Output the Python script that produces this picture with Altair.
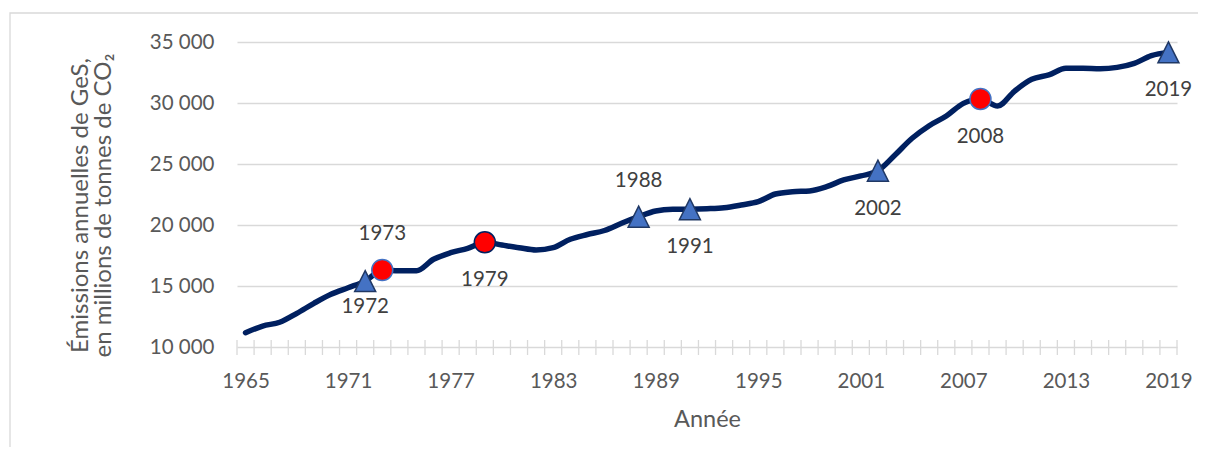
import altair as alt
import pandas as pd

# ---------------- data ----------------
years = list(range(1965, 2020))
emissions = [11170, 11720, 12030, 12760, 13580, 14320, 14860, 15400, 16310, 16250,
             16250, 17190, 17730, 18090, 18580, 18360, 18140, 17950, 18140, 18830,
             19220, 19550, 20140, 20680, 21150, 21290, 21300, 21340, 21420, 21640,
             21910, 22540, 22730, 22790, 23140, 23690, 24020, 24450, 25740, 27110,
             28140, 28930, 29970, 30330, 29750, 30980, 31940, 32300, 32840, 32840,
             32810, 32920, 33250, 33880, 34150]

event_years = [1972, 1973, 1979, 1988, 1991, 2002, 2008, 2019]
event_kind = ["triangle", "circle", "circle", "triangle", "triangle", "triangle", "circle", "triangle"]
event_label_pos = ["near", "above", "below", "above", "below", "below", "below", "below"]

x_label_years = [1965, 1971, 1977, 1983, 1989, 1995, 2001, 2007, 2013, 2019]
y_tick_values = [10000, 15000, 20000, 25000, 30000, 35000]

y_title = ["Émissions annuelles de GeS,", "en millions de tonnes de CO₂"]
x_title = "Année"

# ---------------- tables ----------------
W, H = 940, 305
FONT = "Lato"
AXIS_TXT = "#595959"
GRID = "#d9d9d9"

line_df = pd.DataFrame({"year": years, "value": emissions})
value_of = dict(zip(years, emissions))

TRI = "M0,-1L1,1L-1,1Z"
shape_map = {"triangle": TRI, "circle": "circle"}
fill_map = {"triangle": "#4472C4", "circle": "#FF0000"}
stroke_map = {"triangle": "#203864", "circle": "#4472C4"}

ev_df = pd.DataFrame({
    "year": event_years,
    "value": [value_of[y] for y in event_years],
    "shape": [shape_map[k] for k in event_kind],
    "fill": [fill_map[k] for k in event_kind],
    "stroke": [("#002060" if y == 1979 else stroke_map[k]) for y, k in zip(event_years, event_kind)],
    "pos": event_label_pos,
    "label": [str(y) for y in event_years],
})

boundaries = [y - 0.5 for y in years] + [years[-1] + 0.5]
tick_df = pd.DataFrame({"year": boundaries})

x_scale = alt.Scale(domain=[years[0] - 0.5, years[-1] + 0.5], nice=False, zero=False)
y_scale = alt.Scale(domain=[10000, 35000], nice=False, zero=False)

X = alt.X("year:Q", scale=x_scale, title=x_title,
          axis=alt.Axis(values=x_label_years, format="d", grid=False, domain=False, ticks=False,
                        labelPadding=40, labelBaseline="alphabetic", labelFontSize=20.5,
                        labelColor=AXIS_TXT, labelFont=FONT, labelOverlap=False,
                        titleFont=FONT, titleFontSize=23.5, titleFontWeight="normal",
                        titleColor=AXIS_TXT, titleX=W / 2, titleY=79, titleBaseline="alphabetic"))
Y = alt.Y("value:Q", scale=y_scale, title=y_title,
          axis=alt.Axis(values=y_tick_values, grid=True, gridColor=GRID, gridWidth=1.3,
                        domain=False, ticks=False, labelPadding=23, labelFontSize=20.5,
                        labelColor=AXIS_TXT, labelFont=FONT, labelBaseline="middle",
                        labelExpr="replace(format(datum.value, ','), ',', ' ')",
                        titleFont=FONT, titleFontSize=24, titleFontWeight="normal",
                        titleColor=AXIS_TXT, titleAngle=-90, titleX=-157, titleY=163,
                        titleAlign="center", titleBaseline="middle", titleLineHeight=23))

# ---------------- layers ----------------
border = alt.Chart(pd.DataFrame({"a": [0]})).mark_rect(
    fillOpacity=0, stroke=GRID, strokeWidth=1.3
).encode(
    x=alt.value(-227), x2=alt.value(W + 200), y=alt.value(-29), y2=alt.value(H + 200)
)

line = alt.Chart(line_df).mark_line(
    color="#002060", strokeWidth=5.5, interpolate="monotone", strokeCap="round", strokeJoin="round"
).encode(x=X, y=Y)

ticks = alt.Chart(tick_df).mark_rule(color=GRID, strokeWidth=1.3).encode(
    x=X, y=alt.value(H - 7), y2=alt.value(H + 8),
)

markers = alt.Chart(ev_df).mark_point(filled=True, size=441, opacity=1, strokeWidth=1.5).encode(
    x=X, y=Y,
    shape=alt.Shape("shape:N", scale=None),
    fill=alt.Fill("fill:N", scale=None),
    stroke=alt.Stroke("stroke:N", scale=None),
)

def label_layer(pos, dy):
    return alt.Chart(ev_df).transform_filter(alt.datum.pos == pos).mark_text(
        font=FONT, fontSize=20.5, color="#404040", baseline="middle", align="center", dy=dy
    ).encode(x=X, y=Y, text="label:N")

chart = alt.layer(
    border, ticks, line, markers,
    label_layer("above", -36), label_layer("below", 38), label_layer("near", 26),
).properties(
    width=W, height=H,
    autosize=alt.AutoSizeParams(type="none"),
    padding={"left": 229, "top": 34, "right": 21, "bottom": 100},
).configure_view(stroke=None)

chart.save("out.html", embed_options={"renderer": "svg", "actions": False})
